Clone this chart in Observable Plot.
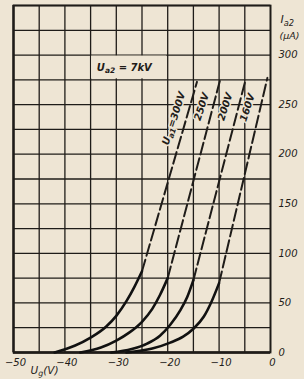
<!DOCTYPE html>
<html><head><meta charset="utf-8">
<script src="https://cdn.jsdelivr.net/npm/d3@7"></script>
<script src="https://cdn.jsdelivr.net/npm/@observablehq/plot@0.6"></script>
<style>
html,body{margin:0;padding:0;background:#eee5d4;}
#chart{width:304px;height:379px;}
</style></head><body><div id="chart"></div>
<script>
// ---- data ----
const xTicks = [-50, -40, -30, -20, -10, 0];
const yTicks = [0, 50, 100, 150, 200, 250, 300];
const gridX = [-50, -45, -40, -35, -30, -25, -20, -15, -10, -5, 0];
const gridY = [0, 25, 50, 75, 100, 125, 150, 175, 200, 225, 250, 275, 300, 325, 350];

const seriesNames = ["300V", "250V", "200V", "160V"];
// solid (measured) low-current part of each curve: [Ug (V), Ia2 (µA)]
const solid300 = [[-42, 0], [-38, 7], [-35, 15], [-32, 26], [-30, 37], [-28, 52], [-26.5, 66], [-25, 82]];
const solid250 = [[-37, 0], [-33, 5], [-30, 12], [-27.5, 20], [-25, 31], [-23, 44], [-21.5, 58], [-20, 75]];
const solid200 = [[-31, 0], [-27, 3.5], [-24, 9], [-21.5, 17], [-19.5, 28], [-17.5, 43], [-16.2, 56], [-15, 73]];
const solid160 = [[-28, 0], [-23, 4], [-19.5, 10], [-17, 16], [-15, 24], [-13, 36], [-11.5, 51], [-10, 70]];
// dashed (extrapolated) upper part of each curve
const dash300 = [[-25, 82], [-14.3, 273]];
const dash250 = [[-20, 75], [-9.7, 277]];
const dash200 = [[-15, 73], [-4.9, 274]];
const dash160 = [[-10, 70], [-0.6, 277]];
// curve labels
const curveLabels = ["U_{a1}=300V", "250V", "200V", "160V"];
const labelX = [-18.8, -13.4, -8.8, -4.5];
const labelY = [236, 248, 248, 247];

const paper = "#eee5d4";
const ink = "#1f1c19";

const solids = [solid300, solid250, solid200, solid160];
const dashes = [dash300, dash250, dash200, dash160];
const solidRows = solids.flatMap((arr, i) => arr.map(([x, y]) => ({s: seriesNames[i], x, y})));
const dashRows = dashes.flatMap((arr, i) => arr.map(([x, y]) => ({s: seriesNames[i], x, y})));
const labelRows = curveLabels.map((t, i) => ({t, x: labelX[i], y: labelY[i]}));

const plot = Plot.plot({
  width: 304,
  height: 379,
  marginLeft: 13,
  marginRight: 34,
  marginTop: 5,
  marginBottom: 27,
  x: {domain: [-50, 0]},
  y: {domain: [0, 350]},
  style: {background: paper, color: ink, fontFamily: "'DejaVu Sans', sans-serif", fontStyle: "italic", fontSize: "10px"},
  marks: [
    Plot.ruleX(gridX, {stroke: ink, strokeWidth: 1.3}),
    Plot.ruleY(gridY, {stroke: ink, strokeWidth: 1.3}),
    Plot.rect([{x1: -35, x2: -20, y1: 275, y2: 300}], {x1: "x1", x2: "x2", y1: "y1", y2: "y2", fill: paper, inset: 1}),
    Plot.text(["U_{a2} = 7kV"], {x: () => -33.8, y: () => 287, textAnchor: "start", fontWeight: "bold", fontSize: 10, fill: ink}),
    Plot.frame({stroke: ink, strokeWidth: 1.8}),
    Plot.ruleX([-50], {stroke: ink, strokeWidth: 2.2}),
    Plot.ruleY([0], {stroke: ink, strokeWidth: 2.6}),
    Plot.line(dashRows, {x: "x", y: "y", z: "s", stroke: ink, strokeWidth: 2, strokeDasharray: "12,4"}),
    Plot.line(solidRows, {x: "x", y: "y", z: "s", stroke: "#111", strokeWidth: 2.6, curve: "monotone-x"}),
    Plot.text(labelRows, {x: "x", y: "y", text: "t", rotate: -72, fontSize: 10, fontWeight: "bold", fill: ink, stroke: paper, strokeWidth: 3}),
    Plot.axisY(yTicks, {anchor: "right", tickSize: 0, tickPadding: 8, label: null, fontSize: 10}),
    Plot.axisX(xTicks, {anchor: "bottom", tickSize: 0, tickPadding: 6, dx: 2, label: null, fontSize: 10}),
    Plot.text(["I_{a2}"], {frameAnchor: "top-right", dx: 10, dy: 10, textAnchor: "start", fontSize: 11, fill: ink}),
    Plot.text(["(μA)"], {frameAnchor: "top-right", dx: 9, dy: 27, textAnchor: "start", fontSize: 9.5, fill: ink}),
    Plot.text(["U_{g}(V)"], {frameAnchor: "bottom-left", dx: 17, dy: 21, textAnchor: "start", fontSize: 10.5, fill: ink})
  ]
});

// turn "_{...}" markers into real subscript tspans
plot.querySelectorAll("text").forEach(el => {
  const t = el.textContent;
  if (!t.includes("_{")) return;
  const parts = t.split(/(_\{[^}]*\})/).filter(p => p);
  el.textContent = "";
  let afterSub = false;
  for (const p of parts) {
    const ts = document.createElementNS("http://www.w3.org/2000/svg", "tspan");
    if (p.startsWith("_{")) {
      ts.textContent = p.slice(2, -1);
      ts.setAttribute("font-size", "75%");
      ts.setAttribute("dy", "0.3em");
      afterSub = true;
    } else {
      ts.textContent = p;
      if (afterSub) ts.setAttribute("dy", "-0.225em");
      afterSub = false;
    }
    el.appendChild(ts);
  }
});

document.getElementById("chart").appendChild(plot);
</script></body></html>
